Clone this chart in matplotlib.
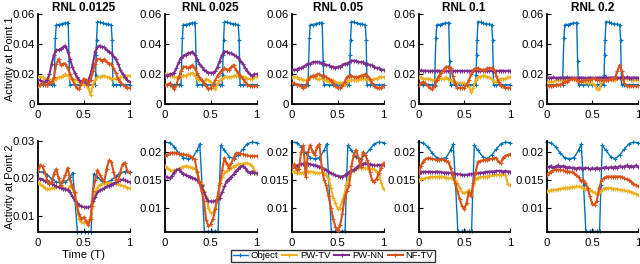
import matplotlib
matplotlib.use("Agg")
import matplotlib.pyplot as plt
import numpy as np

plt.rcParams['font.family'] = ['Liberation Sans', 'DejaVu Sans']

# ---------------- data ----------------
titles = ["RNL 0.0125", "RNL 0.025", "RNL 0.05", "RNL 0.1", "RNL 0.2"]
series_names = ["Object", "PW-TV", "PW-NN", "NF-TV"]
time = [0.0, 0.025, 0.05, 0.075, 0.1, 0.125, 0.15, 0.175, 0.2, 0.225, 0.25, 0.275, 0.3, 0.325,
        0.35, 0.375, 0.4, 0.425, 0.45, 0.475, 0.5, 0.525, 0.55, 0.575, 0.6, 0.625, 0.65, 0.675,
        0.7, 0.725, 0.75, 0.775, 0.8, 0.825, 0.85, 0.875, 0.9, 0.925, 0.95, 0.975, 1.0]

# ground-truth object, point 1
obj1_t = [0, .05, .1, .15, .175, .19, .2, .23, .26, .29, .32, .33, .34, .35, .4, .45, .5, .55, .6,
          .625, .63, .635, .64, .65, .68, .71, .74, .77, .8, .81, .82, .85, .9, .95, 1]
obj1_v = [.013, .013, .013, .013, .013, .044, .053, .053, .0535, .054, .054, .054, .029, .013, .013,
          .013, .013, .013, .013, .013, .0195, .033, .043, .055, .0545, .054, .0535, .0532, .053,
          .043, .013, .013, .013, .013, .013]
# ground-truth object, point 2
obj2_t = [0, .05, .1, .15, .2, .25, .3, .35, .38, .405, .43, .47, .51, .55, .58, .595, .61, .65,
          .7, .75, .8, .85, .9, .95, 1]
obj2_v = [.0218, .0217, .021, .0198, .019, .0188, .019, .0203, .0215, .014, .0057, .0057, .0057,
          .0057, .0057, .014, .0212, .0203, .0192, .0188, .0195, .0205, .0215, .0218, .0217]

# row 1 (Activity at Point 1)
pwtv_a1 = [.018,.018,.018,.017,.017,.017,.016,.016,.017,.018,.018,.019,.02,.019,.017,.017,.016,.016,.015,.014,.013,.013,.011,.006,.013,.016,.018,.018,.019,.019,.018,.018,.017,.017,.017,.017,.018,.018,.018,.019,.019]
pwnn_a1 = [.016,.016,.015,.015,.016,.02,.027,.033,.036,.036,.037,.038,.039,.035,.03,.025,.021,.018,.016,.015,.016,.014,.016,.02,.027,.035,.038,.039,.038,.038,.036,.035,.034,.032,.03,.027,.023,.02,.018,.016,.015]
nftv_a1 = [.012,.013,.014,.013,.013,.015,.014,.018,.027,.03,.026,.027,.027,.024,.02,.017,.013,.011,.01,.014,.017,.016,.013,.016,.022,.027,.03,.03,.029,.03,.028,.027,.027,.024,.021,.017,.015,.013,.012,.011,.011]

pwtv_a2 = [.02,.02,.019,.019,.018,.018,.018,.018,.019,.019,.02,.02,.021,.019,.017,.016,.016,.014,.017,.016,.015,.012,.01,.014,.016,.017,.018,.018,.018,.018,.019,.019,.019,.019,.018,.018,.017,.017,.017,.018,.018]
pwnn_a2 = [.019,.019,.02,.02,.021,.024,.028,.031,.032,.033,.034,.034,.035,.033,.03,.027,.025,.023,.022,.021,.021,.021,.022,.025,.029,.033,.035,.035,.034,.034,.033,.032,.031,.029,.027,.024,.022,.02,.019,.02,.02]
nftv_a2 = [.013,.013,.014,.012,.01,.013,.018,.022,.025,.025,.024,.025,.026,.024,.021,.018,.016,.014,.012,.01,.011,.013,.016,.019,.021,.023,.024,.023,.023,.025,.026,.023,.021,.019,.017,.015,.013,.012,.012,.012,.012]

pwtv_a3 = [.018,.018,.018,.017,.017,.016,.016,.017,.018,.018,.018,.017,.017,.017,.016,.016,.015,.015,.016,.015,.014,.014,.014,.013,.015,.016,.016,.016,.016,.016,.017,.017,.017,.016,.016,.016,.017,.017,.018,.018,.018]
pwnn_a3 = [.023,.023,.023,.024,.024,.025,.026,.027,.027,.028,.028,.028,.028,.027,.027,.026,.026,.025,.025,.024,.025,.025,.026,.027,.027,.028,.029,.029,.029,.028,.028,.028,.027,.027,.026,.026,.025,.024,.024,.023,.023]
nftv_a3 = [.014,.014,.013,.013,.012,.011,.012,.016,.018,.019,.019,.02,.02,.019,.019,.018,.017,.016,.014,.012,.011,.011,.012,.015,.018,.019,.019,.018,.018,.018,.019,.019,.02,.019,.017,.014,.012,.011,.011,.011,.012]

pwtv_a4 = [.018,.018,.017,.017,.017,.017,.016,.016,.017,.017,.017,.017,.018,.017,.016,.015,.015,.014,.014,.014,.014,.013,.012,.008,.011,.016,.018,.018,.019,.019,.018,.018,.017,.015,.015,.016,.017,.017,.017,.018,.018]
pwnn_a4 = [.0222,.0225,.0221,.0224,.0222,.0220,.0223,.0221,.0224,.0222,.0221,.0223,.0222,.0220,.0222,.0223,.0221,.0222,.0220,.0222,.0221,.0223,.0220,.0222,.0221,.0223,.0222,.0220,.0222,.0224,.0221,.0223,.0222,.0221,.0223,.0222,.0224,.0222,.0221,.0223,.0222]
nftv_a4 = [.013,.014,.015,.014,.012,.011,.01,.012,.016,.019,.021,.023,.025,.025,.024,.019,.014,.011,.011,.011,.011,.013,.016,.02,.023,.024,.024,.023,.023,.023,.024,.024,.024,.023,.019,.015,.012,.012,.011,.011,.011]

pwtv_a5 = [.015,.015,.015,.015,.016,.016,.016,.016,.016,.017,.017,.017,.017,.016,.016,.015,.015,.015,.014,.014,.014,.013,.01,.01,.014,.016,.016,.016,.016,.016,.016,.017,.017,.017,.017,.017,.017,.016,.016,.016,.016]
pwnn_a5 = [.0175,.0178,.0176,.0179,.0177,.0175,.0178,.0176,.0177,.0179,.0176,.0178,.0175,.0177,.0176,.0178,.0177,.0175,.0176,.0178,.0176,.0175,.0177,.0176,.0178,.0177,.0179,.0176,.0178,.0177,.0179,.0178,.0176,.0178,.0177,.0179,.0178,.0176,.0178,.0177,.0178]
nftv_a5 = [.012,.012,.012,.012,.013,.013,.013,.014,.015,.015,.016,.017,.017,.017,.015,.015,.016,.016,.016,.016,.017,.017,.016,.016,.016,.016,.016,.016,.017,.017,.018,.022,.026,.022,.014,.012,.012,.012,.012,.012,.012]

# row 2 (Activity at Point 2)
pwtv_b1 = [.0190,.0185,.0178,.0173,.0170,.0172,.0174,.0174,.0176,.0178,.0178,.0175,.0172,.0170,.0180,.0175,.0160,.0125,.0090,.0082,.0080,.0082,.0086,.0095,.0125,.0160,.0175,.0182,.0184,.0186,.0187,.0187,.0187,.0186,.0186,.0184,.0182,.0180,.0178,.0175,.0173]
pwnn_b1 = [.0200,.0198,.0196,.0193,.0191,.0189,.0186,.0182,.0178,.0176,.0175,.0172,.0170,.0168,.0162,.0152,.0142,.0135,.0128,.0125,.0123,.0122,.0122,.0125,.0138,.0150,.0162,.0168,.0170,.0173,.0178,.0180,.0183,.0186,.0189,.0192,.0195,.0197,.0195,.0192,.0190]
nftv_b1 = [.0218,.0236,.0232,.0215,.0196,.0185,.0190,.0212,.0225,.0200,.0182,.0195,.0210,.0228,.0196,.0180,.0162,.0125,.0103,.0090,.0095,.0085,.0074,.0092,.0165,.0195,.0222,.0210,.0198,.0192,.0225,.0248,.0245,.0218,.0195,.0195,.0218,.0238,.0242,.0220,.0215]

pwtv_b2 = [.0175,.0172,.0168,.0166,.0167,.0168,.0170,.0172,.0174,.0175,.0174,.0173,.0172,.0170,.0166,.0150,.0142,.0130,.0120,.0100,.0090,.0090,.0100,.0115,.0140,.0155,.0162,.0166,.0170,.0172,.0174,.0176,.0178,.0178,.0179,.0180,.0180,.0178,.0175,.0168,.0160]
pwnn_b2 = [.0156,.0155,.0153,.0157,.0163,.0168,.0169,.0165,.0161,.0159,.0157,.0156,.0154,.0152,.0150,.0146,.0138,.0128,.0118,.0112,.0111,.0111,.0112,.0115,.0118,.0128,.0138,.0148,.0152,.0156,.0160,.0166,.0170,.0174,.0175,.0172,.0166,.0163,.0165,.0163,.0162]
nftv_b2 = [.0193,.0195,.0198,.0199,.0199,.0198,.0197,.0196,.0196,.0195,.0194,.0193,.0190,.0187,.0165,.0145,.0130,.0112,.0078,.0066,.0070,.0080,.0097,.0120,.0145,.0168,.0190,.0178,.0172,.0180,.0190,.0198,.0198,.0197,.0196,.0195,.0194,.0193,.0193,.0193,.0193]

pwtv_b3 = [.0166,.0164,.0163,.0162,.0162,.0163,.0164,.0165,.0165,.0164,.0163,.0162,.0162,.0163,.0162,.0158,.0152,.0135,.0118,.0108,.0098,.0100,.0112,.0125,.0145,.0157,.0164,.0168,.0170,.0171,.0172,.0172,.0171,.0171,.0170,.0170,.0169,.0165,.0158,.0145,.0133]
pwnn_b3 = [.0176,.0175,.0175,.0177,.0178,.0179,.0180,.0179,.0178,.0177,.0176,.0175,.0174,.0172,.0170,.0168,.0165,.0162,.0160,.0158,.0157,.0156,.0156,.0158,.0161,.0164,.0166,.0168,.0172,.0175,.0177,.0179,.0180,.0179,.0178,.0177,.0176,.0176,.0177,.0176,.0176]
nftv_b3 = [.0172,.0178,.0168,.0170,.0200,.0212,.0155,.0200,.0213,.0200,.0195,.0210,.0214,.0172,.0150,.0140,.0120,.0100,.0080,.0065,.0058,.0068,.0088,.0118,.0130,.0140,.0175,.0195,.0204,.0190,.0174,.0200,.0195,.0185,.0165,.0150,.0147,.0152,.0162,.0172,.0180]

pwtv_b4 = [.0150,.0151,.0152,.0153,.0154,.0155,.0155,.0155,.0155,.0156,.0156,.0155,.0154,.0153,.0153,.0152,.0150,.0145,.0135,.0128,.0126,.0128,.0132,.0122,.0140,.0152,.0154,.0155,.0155,.0156,.0156,.0157,.0158,.0158,.0159,.0159,.0159,.0160,.0159,.0142,.0141]
pwnn_b4 = [.0163,.0164,.0164,.0165,.0164,.0165,.0164,.0164,.0165,.0164,.0164,.0163,.0163,.0163,.0162,.0162,.0161,.0160,.0160,.0159,.0159,.0159,.0160,.0160,.0161,.0162,.0162,.0163,.0163,.0164,.0164,.0165,.0165,.0165,.0166,.0166,.0166,.0165,.0166,.0165,.0165]
nftv_b4 = [.0160,.0175,.0183,.0187,.0189,.0189,.0188,.0187,.0186,.0186,.0188,.0186,.0184,.0183,.0172,.0158,.0145,.0130,.0115,.0103,.0097,.0108,.0128,.0120,.0145,.0165,.0182,.0184,.0185,.0186,.0186,.0187,.0188,.0189,.0189,.0182,.0180,.0190,.0193,.0195,.0196]

pwtv_b5 = [.0129,.0130,.0131,.0132,.0132,.0133,.0134,.0135,.0135,.0136,.0136,.0137,.0137,.0138,.0138,.0137,.0136,.0134,.0132,.0131,.0129,.0127,.0124,.0126,.0130,.0134,.0135,.0135,.0135,.0134,.0134,.0133,.0132,.0132,.0131,.0130,.0129,.0128,.0127,.0125,.0123]
pwnn_b5 = [.0174,.0173,.0175,.0172,.0174,.0176,.0173,.0175,.0174,.0172,.0173,.0171,.0172,.0170,.0172,.0171,.0170,.0172,.0171,.0169,.0171,.0170,.0172,.0170,.0171,.0172,.0173,.0171,.0173,.0172,.0174,.0172,.0175,.0173,.0174,.0176,.0173,.0175,.0174,.0176,.0174]
nftv_b5 = [.0159,.0162,.0165,.0167,.0168,.0168,.0168,.0167,.0166,.0165,.0165,.0164,.0162,.0159,.0155,.0148,.0150,.0145,.0135,.0120,.0107,.0105,.0112,.0135,.0148,.0153,.0155,.0156,.0156,.0156,.0156,.0156,.0156,.0155,.0153,.0151,.0150,.0147,.0143,.0140,.0138]

row1_ticks = [0, 0.02, 0.04, 0.06]
row1_labels = ["0", "0.02", "0.04", "0.06"]
row2a_ticks = [0.01, 0.02, 0.03]
row2a_labels = ["0.01", "0.02", "0.03"]
row2b_ticks = [0.01, 0.015, 0.02]
row2b_labels = ["0.01", "0.015", "0.02"]
x_ticks = [0, 0.5, 1]
x_labels = ["0", "0.5", "1"]

# ---------------- style ----------------
colors = {"Object": "#0072BD", "PW-TV": "#EDB120", "PW-NN": "#7E2F8E", "NF-TV": "#D95319"}

rows = [
    [(pwtv_a1, pwnn_a1, nftv_a1), (pwtv_a2, pwnn_a2, nftv_a2), (pwtv_a3, pwnn_a3, nftv_a3),
     (pwtv_a4, pwnn_a4, nftv_a4), (pwtv_a5, pwnn_a5, nftv_a5)],
    [(pwtv_b1, pwnn_b1, nftv_b1), (pwtv_b2, pwnn_b2, nftv_b2), (pwtv_b3, pwnn_b3, nftv_b3),
     (pwtv_b4, pwnn_b4, nftv_b4), (pwtv_b5, pwnn_b5, nftv_b5)],
]

fig = plt.figure(figsize=(6.4, 2.64), dpi=100)
W, H = 640.0, 264.0
lefts = [38, 165, 292, 418.5, 546.5]
axw = 91.5
row_boxes = [(14, 104.3), (141, 232)]

handles = None
for r in range(2):
    top, bot = row_boxes[r]
    for c in range(5):
        ax = fig.add_axes([lefts[c] / W, 1 - bot / H, axw / W, (bot - top) / H])
        if r == 0:
            ot, ov = obj1_t, obj1_v
        else:
            ot, ov = obj2_t, obj2_v
        h0, = ax.plot(ot, ov, color=colors["Object"], lw=1.0, marker='+', ms=2.5, mew=0.8,
                      label="Object", clip_on=False, zorder=2)
        tv, nn, nf = rows[r][c]
        h1, = ax.plot(time, tv, color=colors["PW-TV"], lw=1.5, marker='+', ms=2.5, mew=0.8,
                      label="PW-TV", zorder=3)
        h2, = ax.plot(time, nn, color=colors["PW-NN"], lw=1.5, marker='+', ms=2.5, mew=0.8,
                      label="PW-NN", zorder=4)
        h3, = ax.plot(time, nf, color=colors["NF-TV"], lw=1.5, marker='+', ms=2.5, mew=0.8,
                      label="NF-TV", zorder=5)
        handles = [h0, h1, h2, h3]
        ax.set_xlim(0, 1)
        ax.set_xticks(x_ticks)
        ax.set_xticklabels(x_labels)
        if r == 0:
            ax.set_ylim(0, 0.06)
            ax.set_yticks(row1_ticks)
            ax.set_yticklabels(row1_labels)
            ax.set_title(titles[c], fontsize=8.5, fontweight='bold', pad=2)
        else:
            if c == 0:
                ax.set_ylim(0.0056, 0.03)
                ax.set_yticks(row2a_ticks)
                ax.set_yticklabels(row2a_labels)
            else:
                ax.set_ylim(0.0056, 0.022)
                ax.set_yticks(row2b_ticks)
                ax.set_yticklabels(row2b_labels)
        for s in ["top", "right"]:
            ax.spines[s].set_visible(False)
        for s in ["left", "bottom"]:
            ax.spines[s].set_linewidth(1.3)
        ax.tick_params(direction='in', length=3, width=0.8, labelsize=8.2, pad=2)
        ax.tick_params(axis='x', pad=4)
        if c == 0:
            ax.set_ylabel("Activity at Point %d" % (r + 1), fontsize=7.8)
            ax.yaxis.set_label_coords(-0.25, 0.5)
            if r == 1:
                ax.set_xlabel("Time (T)", fontsize=8.2, labelpad=2)

leg = fig.legend(handles, series_names, loc='center', bbox_to_anchor=(333 / W, 1 - 256 / H),
                 ncol=4, fontsize=6.8, frameon=True, fancybox=False, edgecolor='black',
                 handlelength=1.6, handletextpad=0.3, columnspacing=0.4, borderpad=0.2,
                 borderaxespad=0)
leg.get_frame().set_linewidth(1.0)

fig.savefig("out.png", dpi=100)
